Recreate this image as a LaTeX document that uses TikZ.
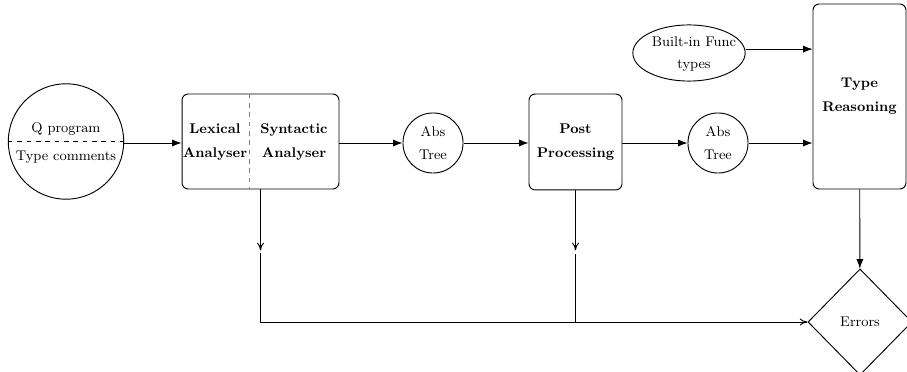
\documentclass[tikz,border=0pt]{standalone}
\usetikzlibrary{shapes.geometric,arrows.meta}
\begin{document}
\begin{tikzpicture}[x=0.641pt,y=-0.641pt, semithick,
        block/.style={draw, rounded corners=4pt, align=center, font=\fontsize{9}{15.5}\selectfont\bfseries},
        store/.style={draw, circle, minimum size=38.5pt, inner sep=0pt, align=center, font=\fontsize{9}{14.5}\selectfont},
        flow/.style={-{Latex[length=6pt,width=4.5pt]}},
        errflow/.style={-{To[length=5pt,width=4.5pt]}}]
        \useasboundingbox (0,0) rectangle (907,372);

        % Input program with type comments
        \node[draw, circle, minimum size=74pt, inner sep=0pt] (qprog) at (66,141.5) {};
        \node[font=\small, anchor=base] (qtext) at (66,133) {Q program};
        \node[font=\small, anchor=base] (ctext) at (66,161) {Type comments};
        \draw[dashed] (qprog.west) -- (qprog.east);

        % Lexer and parser
        \node[draw, rounded corners=4pt, minimum width=100.6pt, minimum height=60.9pt] (lexer) at (260.5,141.5) {};
        \node[block, draw=none] (lexical) at (215,142) {Lexical\\Analyser};
        \node[block, draw=none] (syntactic) at (294,142) {Syntactic\\Analyser};
        \coordinate (divide) at (249,0);
        \draw[dashed, gray] (divide |- lexer.north) -- (divide |- lexer.south);

        % Abstract trees
        \node[store] (abs1) at (433,143) {Abs\\Tree};
        \node[store] (abs2) at (718,143) {Abs\\Tree};

        % Post processing and type reasoning
        \node[block, minimum width=59.6pt, minimum height=61.5pt] (post) at (575.5,142) {Post\\Processing};
        \node[block, minimum width=59.6pt, minimum height=118.6pt] (typer) at (859.5,96.5) {Type\\Reasoning};

        % Built-in function types
        \node[draw, ellipse, minimum width=72pt, minimum height=36pt, inner sep=0pt] (builtin) at (689,53) {};
        \node[align=center, font=\fontsize{9}{14}\selectfont] (bintext) at (694,54) {Built-in Func\\types};

        % Errors
        \node[draw, diamond, minimum width=66.7pt, minimum height=68pt, inner sep=0pt, font=\small] (errors) at (860,322) {Errors};

        % Main flow
        \draw[flow] (qprog.east |- abs1) -- (abs1 -| lexer.west);
        \draw[flow] (lexer.east |- abs1) -- (abs1);
        \draw[flow] (abs1) -- (abs1 -| post.west);
        \draw[flow] (post.east |- abs2) -- (abs2);
        \draw[flow] (abs2) -- (abs2 -| typer.west);
        \draw[flow] ([yshift=2.5pt]builtin.east) -- ([yshift=2.5pt]builtin.east -| typer.west);
        \draw[flow] (typer) -- (errors);

        % Error flow
        \draw[errflow] (lexer.south) -- ++(0,61);
        \draw[errflow] (post.south) -- ++(0,60);
        \draw[errflow] (lexer.south) ++(0,64) -- (lexer.south |- errors.west) -- (errors.west);
        \draw (post.south) ++(0,64) -- (post.south |- errors.west);
\end{tikzpicture}
\end{document}
